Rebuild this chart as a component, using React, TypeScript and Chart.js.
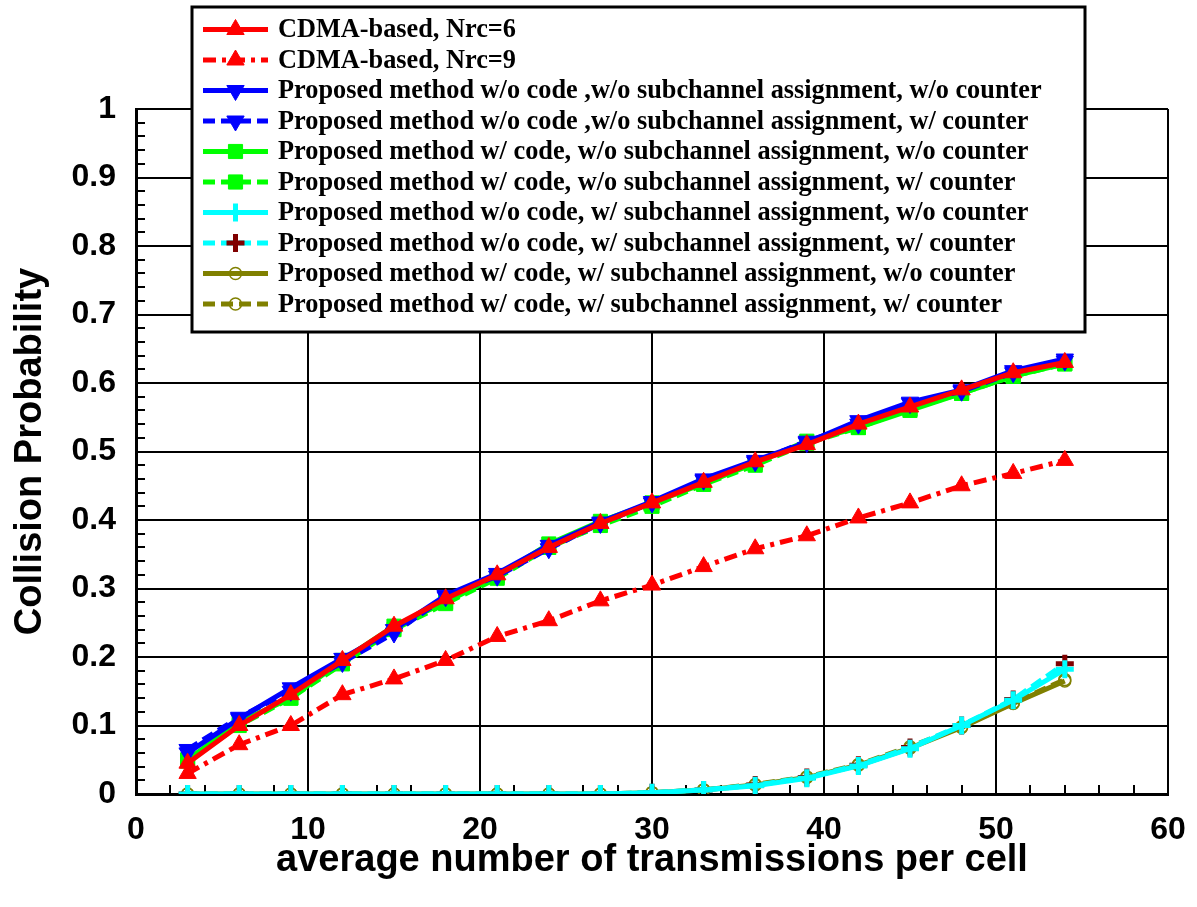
import React, { useEffect, useRef } from 'react';
import { Chart, registerables } from 'chart.js';

Chart.register(...registerables);

// ---------- data ----------
const transmissions = [3, 6, 9, 12, 15, 18, 21, 24, 27, 30, 33, 36, 39, 42, 45, 48, 51, 54];

const cdmaNrc6 = [0.045, 0.1, 0.145, 0.195, 0.245, 0.285, 0.32, 0.36, 0.395, 0.425, 0.455, 0.485, 0.51, 0.54, 0.565, 0.59, 0.615, 0.63];
const cdmaNrc9 = [0.03, 0.072, 0.1, 0.145, 0.168, 0.195, 0.23, 0.253, 0.282, 0.305, 0.332, 0.358, 0.377, 0.403, 0.425, 0.45, 0.468, 0.487];
const noCodeNoSubNoCnt = [0.06, 0.11, 0.155, 0.198, 0.24, 0.29, 0.322, 0.363, 0.397, 0.427, 0.46, 0.487, 0.513, 0.545, 0.572, 0.59, 0.618, 0.635];
const noCodeNoSubCnt = [0.065, 0.112, 0.15, 0.192, 0.235, 0.288, 0.318, 0.358, 0.395, 0.425, 0.458, 0.485, 0.515, 0.54, 0.57, 0.588, 0.615, 0.632];
const codeNoSubNoCnt = [0.05, 0.105, 0.14, 0.195, 0.245, 0.28, 0.318, 0.365, 0.398, 0.425, 0.453, 0.483, 0.515, 0.535, 0.56, 0.585, 0.61, 0.628];
const codeNoSubCnt = [0.048, 0.1, 0.14, 0.19, 0.24, 0.278, 0.315, 0.36, 0.392, 0.42, 0.452, 0.48, 0.512, 0.535, 0.562, 0.585, 0.61, 0.628];
const noCodeSubNoCnt = [0, 0, 0, 0, 0, 0, 0, 0, 0, 0.002, 0.006, 0.012, 0.023, 0.041, 0.066, 0.1, 0.137, 0.182];
const noCodeSubCnt = [0, 0, 0, 0, 0, 0, 0, 0, 0, 0.002, 0.006, 0.013, 0.024, 0.042, 0.068, 0.1, 0.138, 0.19];
const codeSubNoCnt = [0, 0, 0, 0, 0, 0, 0, 0, 0, 0.002, 0.006, 0.013, 0.024, 0.042, 0.067, 0.097, 0.132, 0.165];
const codeSubCnt = [0, 0, 0, 0, 0, 0, 0, 0, 0, 0.002, 0.006, 0.014, 0.025, 0.043, 0.069, 0.098, 0.133, 0.167];

const seriesLabels = [
  'CDMA-based, Nrc=6',
  'CDMA-based, Nrc=9',
  'Proposed method w/o code ,w/o subchannel assignment, w/o counter',
  'Proposed method w/o code ,w/o subchannel assignment, w/ counter',
  'Proposed method w/ code, w/o subchannel assignment, w/o counter',
  'Proposed method w/ code, w/o subchannel assignment, w/ counter',
  'Proposed method w/o code, w/ subchannel assignment, w/o counter',
  'Proposed method w/o code, w/ subchannel assignment, w/ counter',
  'Proposed method w/ code, w/ subchannel assignment, w/o counter',
  'Proposed method w/ code, w/ subchannel assignment, w/ counter',
];

const xTitle = 'average number of transmissions per cell';
const yTitle = 'Collision Probability';

// ---------- styles ----------
const RED = '#ff0000';
const BLUE = '#0000ff';
const GREEN = '#00ff00';
const CYAN = '#00ffff';
const MAROON = '#800000';
const OLIVE = '#808000';

const DASH = [12, 6];
const DASH_DOT = [13, 6, 4, 6];

const TICK_FONT = { family: '"Liberation Sans", Arial, sans-serif', size: 32, weight: 'bold' as const };
const TITLE_FONT = { family: '"Liberation Sans", Arial, sans-serif', size: 38, weight: 'bold' as const };
const LEGEND_FONT = 'bold 26.3px "Liberation Serif", "Times New Roman", serif';

function makeDataset(label: string, data: number[], opts: any) {
  return {
    label,
    data: data.map((v, i) => ({ x: transmissions[i], y: v })),
    borderWidth: 5,
    pointBorderWidth: 1,
    tension: 0,
    ...opts,
  };
}

function drawMarker(ctx: CanvasRenderingContext2D, ds: any, x: number, y: number) {
  const style = ds.pointStyle;
  const r = ds.pointRadius;
  const rot = ((ds.pointRotation || 0) * Math.PI) / 180;
  ctx.save();
  ctx.setLineDash([]);
  ctx.fillStyle = ds.pointBackgroundColor;
  ctx.strokeStyle = ds.pointBorderColor;
  ctx.lineWidth = ds.pointBorderWidth;
  ctx.beginPath();
  if (style === 'triangle') {
    let a = rot;
    ctx.moveTo(x + Math.sin(a) * r, y - Math.cos(a) * r);
    a += (2 * Math.PI) / 3;
    ctx.lineTo(x + Math.sin(a) * r, y - Math.cos(a) * r);
    a += (2 * Math.PI) / 3;
    ctx.lineTo(x + Math.sin(a) * r, y - Math.cos(a) * r);
    ctx.closePath();
    ctx.fill();
    ctx.stroke();
  } else if (style === 'rect') {
    const s = r * Math.SQRT1_2;
    ctx.rect(x - s, y - s, 2 * s, 2 * s);
    ctx.fill();
    ctx.stroke();
  } else if (style === 'cross') {
    ctx.moveTo(x, y - r);
    ctx.lineTo(x, y + r);
    ctx.moveTo(x - r, y);
    ctx.lineTo(x + r, y);
    ctx.stroke();
  } else {
    ctx.arc(x, y, r, 0, Math.PI * 2);
    ctx.fill();
    ctx.stroke();
  }
  ctx.restore();
}

const minorTicksPlugin = {
  id: 'minorTicks',
  beforeDatasetsDraw(chart: any) {
    const { ctx, chartArea, scales } = chart;
    const xs = scales.x;
    const ys = scales.y;
    ctx.save();
    ctx.strokeStyle = '#000';
    ctx.lineWidth = 2;
    ctx.beginPath();
    for (let i = 1; i < 30; i++) {
      if (i % 5 === 0) continue;
      const px = Math.round(xs.getPixelForValue(i * 2));
      ctx.moveTo(px, chartArea.bottom);
      ctx.lineTo(px, chartArea.bottom - 9);
    }
    for (let i = 1; i < 50; i++) {
      if (i % 5 === 0) continue;
      const py = Math.round(ys.getPixelForValue(i * 0.02));
      ctx.moveTo(chartArea.left, py);
      ctx.lineTo(chartArea.left + 9, py);
    }
    ctx.stroke();
    ctx.restore();
  },
};

const boxLegendPlugin = {
  id: 'boxLegend',
  afterDraw(chart: any) {
    const { ctx } = chart;
    const left = 192;
    const top = 7;
    const right = 1085;
    const bottom = 332;
    const rowStart = 29.5;
    const rowGap = 30.5;
    ctx.save();
    ctx.fillStyle = '#ffffff';
    ctx.fillRect(left, top, right - left, bottom - top);
    ctx.strokeStyle = '#000';
    ctx.lineWidth = 3;
    ctx.strokeRect(left, top, right - left, bottom - top);
    chart.data.datasets.forEach((ds: any, i: number) => {
      const y = rowStart + i * rowGap;
      ctx.save();
      ctx.strokeStyle = ds.borderColor;
      ctx.lineWidth = 5;
      ctx.setLineDash(ds.borderDash || []);
      ctx.beginPath();
      ctx.moveTo(203, y);
      ctx.lineTo(268, y);
      ctx.stroke();
      ctx.restore();
      drawMarker(ctx, ds, 235.5, y);
      ctx.fillStyle = '#000';
      ctx.font = LEGEND_FONT;
      ctx.textAlign = 'left';
      ctx.textBaseline = 'middle';
      ctx.fillText(ds.label, 278, y + 1);
    });
    ctx.restore();
  },
};

export default function App() {
  const canvasRef = useRef<HTMLCanvasElement | null>(null);

  useEffect(() => {
    document.body.style.margin = '0';
    const canvas = canvasRef.current;
    if (!canvas) return;

    const datasets = [
      makeDataset(seriesLabels[0], cdmaNrc6, {
        borderColor: RED, pointStyle: 'triangle', pointRadius: 10,
        pointBackgroundColor: RED, pointBorderColor: RED,
      }),
      makeDataset(seriesLabels[1], cdmaNrc9, {
        borderColor: RED, borderDash: DASH_DOT, pointStyle: 'triangle', pointRadius: 10,
        pointBackgroundColor: RED, pointBorderColor: RED,
      }),
      makeDataset(seriesLabels[2], noCodeNoSubNoCnt, {
        borderColor: BLUE, pointStyle: 'triangle', pointRotation: 180, pointRadius: 10,
        pointBackgroundColor: BLUE, pointBorderColor: BLUE,
      }),
      makeDataset(seriesLabels[3], noCodeNoSubCnt, {
        borderColor: BLUE, borderDash: DASH, pointStyle: 'triangle', pointRotation: 180, pointRadius: 10,
        pointBackgroundColor: BLUE, pointBorderColor: BLUE,
      }),
      makeDataset(seriesLabels[4], codeNoSubNoCnt, {
        borderColor: GREEN, pointStyle: 'rect', pointRadius: 10,
        pointBackgroundColor: GREEN, pointBorderColor: GREEN,
      }),
      makeDataset(seriesLabels[5], codeNoSubCnt, {
        borderColor: GREEN, borderDash: DASH, pointStyle: 'rect', pointRadius: 10,
        pointBackgroundColor: GREEN, pointBorderColor: GREEN,
      }),
      makeDataset(seriesLabels[6], noCodeSubNoCnt, {
        borderColor: CYAN, pointStyle: 'cross', pointRadius: 9, pointBorderWidth: 5,
        pointBackgroundColor: CYAN, pointBorderColor: CYAN,
      }),
      makeDataset(seriesLabels[7], noCodeSubCnt, {
        borderColor: CYAN, borderDash: DASH, pointStyle: 'cross', pointRadius: 9, pointBorderWidth: 5,
        pointBackgroundColor: MAROON, pointBorderColor: MAROON,
      }),
      makeDataset(seriesLabels[8], codeSubNoCnt, {
        borderColor: OLIVE, pointStyle: 'circle', pointRadius: 6, pointBorderWidth: 1.5,
        pointBackgroundColor: 'rgba(255,255,255,0)', pointBorderColor: OLIVE,
      }),
      makeDataset(seriesLabels[9], codeSubCnt, {
        borderColor: OLIVE, borderDash: DASH, pointStyle: 'circle', pointRadius: 6, pointBorderWidth: 1.5,
        pointBackgroundColor: 'rgba(255,255,255,0)', pointBorderColor: OLIVE,
      }),
    ];

    const chart = new Chart(canvas, {
      type: 'line',
      data: { datasets },
      plugins: [minorTicksPlugin, boxLegendPlugin],
      options: {
        animation: false,
        responsive: true,
        maintainAspectRatio: false,
        layout: { padding: { top: 109, right: 29, left: 0, bottom: 0 } },
        plugins: {
          legend: { display: false },
          tooltip: { enabled: false },
        },
        scales: {
          x: {
            type: 'linear',
            min: 0,
            max: 60,
            afterFit: (scale: any) => {
              scale.height = 113;
              scale.paddingLeft = 0;
              scale.paddingRight = 0;
            },
            ticks: {
              stepSize: 10,
              color: '#000',
              font: TICK_FONT,
              padding: 17,
              maxRotation: 0,
              callback: (v: any) => String(v),
            },
            grid: { color: '#000', lineWidth: 2, drawTicks: false },
            border: { display: true, color: '#000', width: 3 },
            title: {
              display: true,
              text: xTitle,
              color: '#000',
              font: TITLE_FONT,
              padding: { top: 0, bottom: 24 },
            },
          },
          y: {
            type: 'linear',
            min: 0,
            max: 1,
            afterFit: (scale: any) => {
              scale.width = 136;
              scale.paddingTop = 0;
              scale.paddingBottom = 0;
            },
            ticks: {
              stepSize: 0.1,
              color: '#000',
              font: TICK_FONT,
              padding: 20,
              callback: (v: any) => String(Math.round(Number(v) * 10) / 10),
            },
            grid: { color: '#000', lineWidth: 2, drawTicks: false },
            border: { display: true, color: '#000', width: 3 },
            title: {
              display: true,
              text: yTitle,
              color: '#000',
              font: TITLE_FONT,
              padding: { top: 8, bottom: 0 },
            },
          },
        },
      } as any,
    });

    return () => chart.destroy();
  }, []);

  return (
    <div style={{ position: 'fixed', left: 0, top: 0, width: 1197, height: 907, background: '#fff' }}>
      <canvas ref={canvasRef} />
    </div>
  );
}
